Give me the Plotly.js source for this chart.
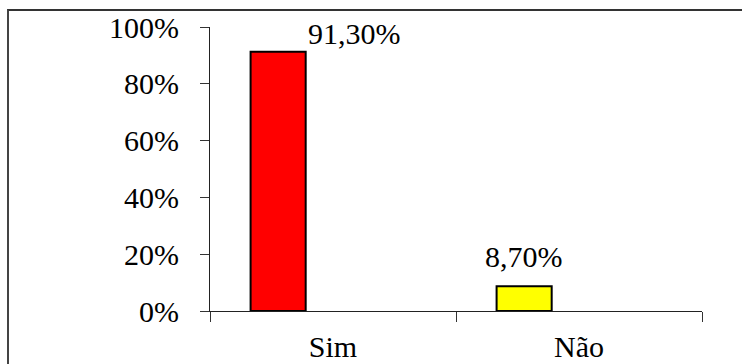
<!DOCTYPE html>
<html>
<head>
<meta charset="utf-8">
<script src="https://cdn.plot.ly/plotly-3.0.1.min.js"></script>
</head>
<body style="margin:0">
<div id="wrap" style="position:relative;width:742px;height:364px;overflow:hidden;background:#fff">
  <div style="position:absolute;left:30px;top:330px;font-family:'Liberation Serif';font-size:3px;color:#fff;z-index:0">.</div>
  <div id="chart" style="position:relative;z-index:1"></div>
  <div style="position:absolute;left:7px;top:9px;width:800px;height:400px;border-top:2px solid #333;border-left:2px solid #444;pointer-events:none;z-index:2"></div>
</div>
<script>
const categories = ['Sim', 'Não'];
const values = [0.913, 0.087];
const barColors = ['#FF0000', '#FFFF00'];
const yTickValues = [0, 0.2, 0.4, 0.6, 0.8, 1.0];

const barWidth = 0.224;
const barOffset = -0.335;
const labelShift = [76, 0];
const labelYShift = [0, 11];

const fmt = v => (v * 100).toFixed(2).replace('.', ',') + '%';

const trace = {
  type: 'bar',
  x: categories,
  y: values,
  width: categories.map(() => barWidth),
  offset: categories.map(() => barOffset),
  marker: { color: barColors, line: { color: '#000', width: 2 } }
};

const annotations = values.map((v, i) => ({
  x: i + barOffset + barWidth / 2,
  y: v,
  xref: 'x', yref: 'y',
  text: fmt(v),
  showarrow: false,
  xanchor: 'center', yanchor: 'bottom',
  xshift: labelShift[i],
  yshift: labelYShift[i],
  font: { family: 'Liberation Serif', size: 30 }
}));

const layout = {
  width: 742, height: 364,
  margin: { l: 210, r: 40, t: 27, b: 53 },
  showlegend: false,
  font: { family: 'Liberation Serif', size: 30 },
  xaxis: {
    type: 'category',
    range: [-0.5, 1.5],
    tickson: 'boundaries',
    ticks: 'outside', ticklen: 10, tickwidth: 1, tickcolor: '#333',
    showline: true, linecolor: '#222', linewidth: 1,
    showgrid: false, zeroline: false,
    ticklabelstandoff: 9
  },
  yaxis: {
    range: [0, 1],
    tickvals: yTickValues,
    tickformat: '.0%',
    ticks: 'outside', ticklen: 9, tickwidth: 1, tickcolor: '#333',
    showline: true, linecolor: '#222', linewidth: 1,
    showgrid: false, zeroline: false,
    ticklabelstandoff: 15
  },
  annotations: annotations
};

Plotly.newPlot('chart', [trace], layout, { displayModeBar: false }).then(() => {
  document.querySelectorAll('#chart text').forEach(t => { t.style.fill = '#000'; });
});
</script>
</body>
</html>
